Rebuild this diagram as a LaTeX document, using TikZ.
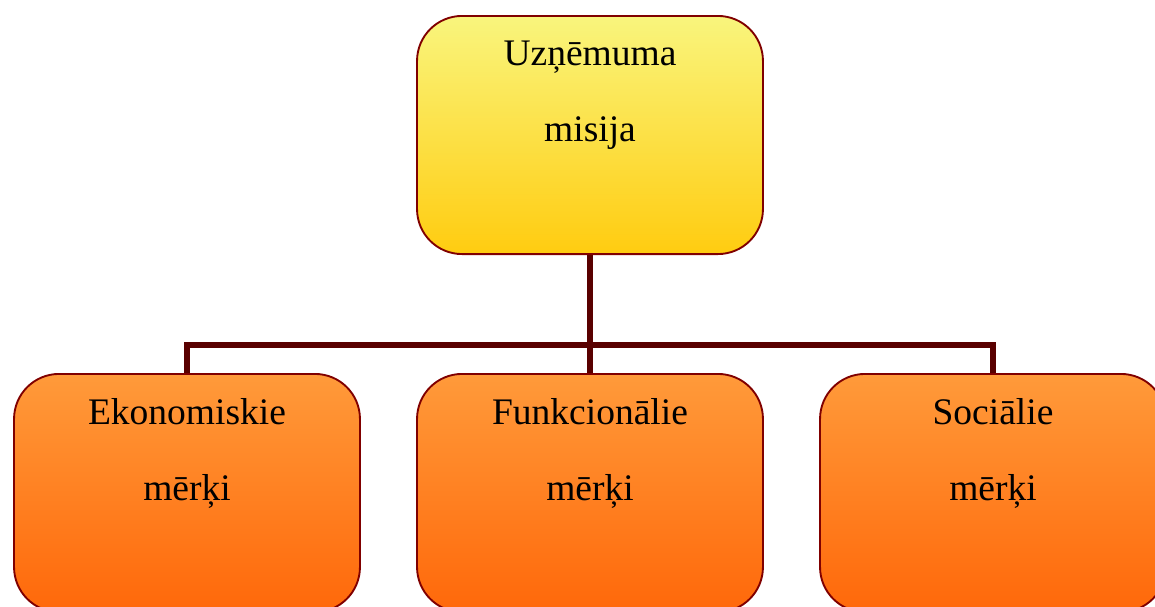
\documentclass[tikz,border=0pt]{standalone}
\usepackage{fontspec}
\setmainfont{Liberation Serif}
\usepackage{tikz}
\usetikzlibrary{positioning,backgrounds}
\definecolor{boxborder}{rgb}{0.5,0,0}
\definecolor{linkcolor}{rgb}{0.35,0,0}
\definecolor{yellowtop}{RGB}{249,245,125}
\definecolor{yellowbot}{RGB}{255,204,16}
\definecolor{orangetop}{RGB}{255,154,58}
\definecolor{orangebot}{RGB}{255,104,10}
\tikzset{
    goalbox/.style={draw=boxborder, line width=0.6pt, rounded corners=14.4pt,
        minimum width=110.7pt, minimum height=76.2pt},
    missionbox/.style={goalbox, top color=yellowtop, bottom color=yellowbot},
    aimbox/.style={goalbox, top color=orangetop, bottom color=orangebot},
    boxtext/.style={inner sep=0pt, align=center, font=\fontsize{12}{14.4}\selectfont},
    link/.style={draw=linkcolor, line width=1.9pt}
}

\begin{document}
\begin{tikzpicture}[x=0.32pt, y=-0.32pt]
    \useasboundingbox (0,0) rectangle (1155,607);
    \clip (0,0) rectangle (1155,607);

    % mission box
    \node[missionbox] (mission) at (590,135) {};
    \node[boxtext, below=8pt of mission.north] (missiontext) {Uzņēmuma\\[10pt]misija};

    % goal boxes
    \node[aimbox] (econ) at (187,493) {};
    \node[boxtext, below=8pt of econ.north] (econtext) {Ekonomiskie\\[10pt]mērķi};
    \node[aimbox] (func) at (590,493) {};
    \node[boxtext, below=8pt of func.north] (functext) {Funkcionālie\\[10pt]mērķi};
    \node[aimbox] (soc) at (993,493) {};
    \node[boxtext, below=8pt of soc.north] (soctext) {Sociālie\\[10pt]mērķi};

    % connectors, behind the boxes
    \coordinate (bus) at (590,345);
    \begin{scope}[on background layer]
        \draw[link] (mission.south) -- (func.north);
        \draw[link] (econ.north) |- (bus) -| (soc.north);
    \end{scope}
\end{tikzpicture}
\end{document}
